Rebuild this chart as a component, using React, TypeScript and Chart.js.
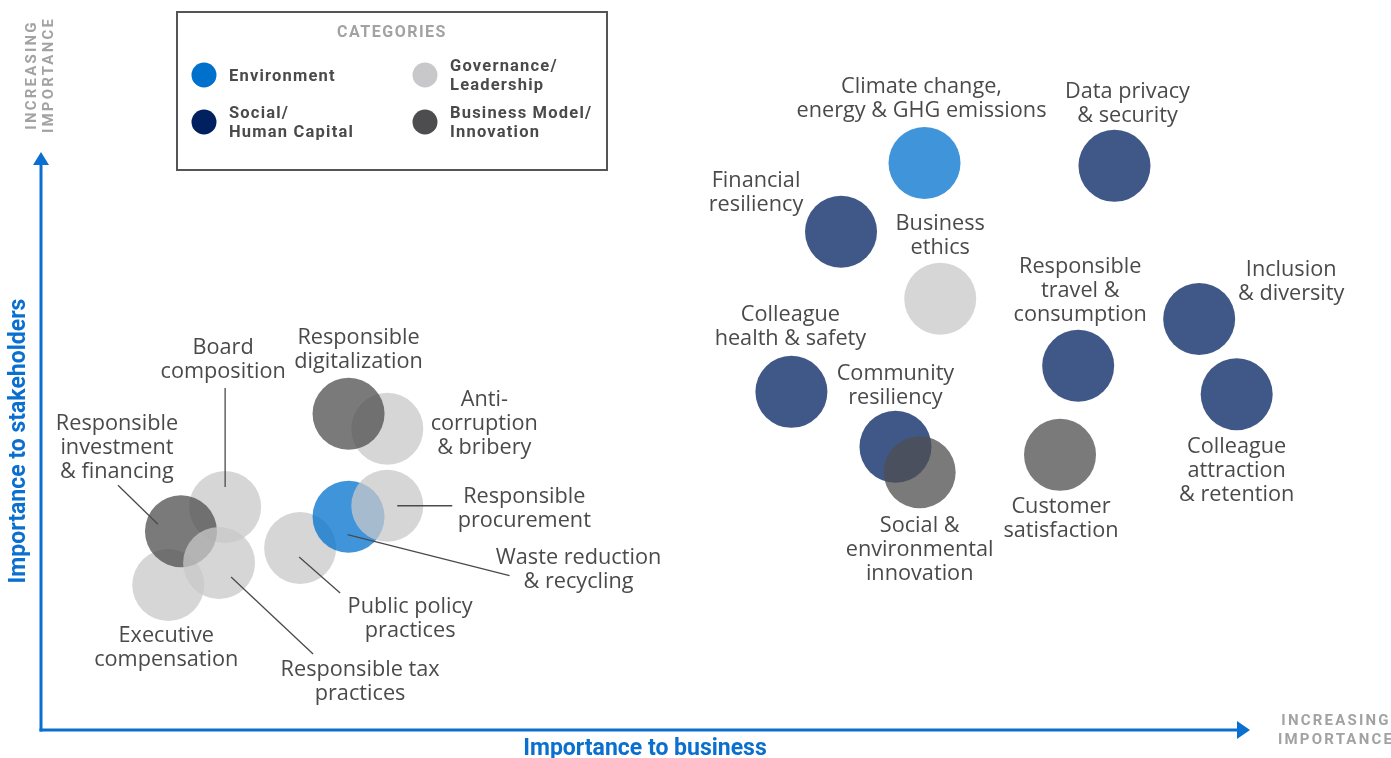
import React, { useEffect, useRef } from "react";
import { Chart, registerables } from "chart.js";

Chart.register(...registerables);

// ---- Data -----------------------------------------------------------------
const categoryNames = ["Environment", "Social/\nHuman Capital", "Governance/\nLeadership", "Business Model/\nInnovation"];
const categoryColors = ["#0070cd", "#002060", "#c8c8ca", "#4d4d4f"];

// listed in drawing order
const topics = [
  "Executive\ncompensation",
  "Board\ncomposition",
  "Responsible\ninvestment\n& financing",
  "Responsible tax\npractices",
  "Public policy\npractices",
  "Waste reduction\n& recycling",
  "Responsible\nprocurement",
  "Anti-\ncorruption\n& bribery",
  "Responsible\ndigitalization",
  "Climate change,\nenergy & GHG emissions",
  "Data privacy\n& security",
  "Financial\nresiliency",
  "Business\nethics",
  "Responsible\ntravel &\nconsumption",
  "Inclusion\n& diversity",
  "Colleague\nattraction\n& retention",
  "Colleague\nhealth & safety",
  "Community\nresiliency",
  "Social &\nenvironmental\ninnovation",
  "Customer\nsatisfaction",
];
// importance to business (0-100)
const businessImportance = [10.6, 15.3, 11.65, 14.8, 21.5, 25.5, 28.7, 28.7, 25.5, 73.1, 88.8, 66.2, 74.4, 85.8, 95.8, 98.9, 62.1, 70.7, 72.7, 84.3];
// importance to stakeholders (0-100)
const stakeholderImportance = [25.1, 38.6, 34.4, 28.9, 31.5, 36.9, 38.8, 52.1, 54.7, 98.1, 97.6, 86.2, 74.6, 63.0, 71.1, 58.1, 58.5, 49.0, 44.6, 47.6];
// 0 Environment, 1 Social, 2 Governance, 3 Business model
const topicCategory = [2, 2, 3, 2, 2, 0, 2, 2, 3, 0, 1, 1, 2, 1, 1, 1, 1, 1, 3, 3];

// ---- Layout (label placement in pixels relative to the bubble) ----------
const labelOffsets: [number, number][] = [
  [-2, 51], [-2, -159], [-64, -107], [141, 107], [110, 59], [230, 41], [137, -9], [97, -29], [10, -76],
  [-3, -76], [13, -74], [-85, -51], [0, -75], [2, -99], [92, -49], [0, 53], [-1, -77], [0, -73], [0, 54], [1, 52],
];
const leaderLines: ([number, number, number, number] | null)[] = [
  null, [0, -119, 0, -20], [-63, -46, -23, -7], [12, 14, 94, 91], [-1, 9, 40, 45], [-1, 18, 161, 59], [10, 0, 65, 0],
  null, null, null, null, null, null, null, null, null, null, null, null, null,
];

const AXIS_BLUE = "#0a6fcf";
const TEXT = "#4a4a4c";
const MUTED = "#a2a2a4";
const LABEL_FONT = "500 21.7px 'Open Sans'";

function hexToRgba(hex: string, a: number) {
  const n = parseInt(hex.slice(1), 16);
  return `rgba(${(n >> 16) & 255},${(n >> 8) & 255},${n & 255},${a})`;
}

const overlayPlugin = {
  id: "materialityOverlay",
  beforeDatasetsDraw(chart: any) {
    const ctx = chart.ctx as CanvasRenderingContext2D;
    const { left, right, top, bottom } = chart.chartArea;
    ctx.save();
    ctx.strokeStyle = AXIS_BLUE;
    ctx.fillStyle = AXIS_BLUE;
    ctx.lineWidth = 3;
    // y axis
    ctx.beginPath();
    ctx.moveTo(left + 1, bottom + 1.5);
    ctx.lineTo(left + 1, top + 10);
    ctx.stroke();
    ctx.beginPath();
    ctx.moveTo(left + 1, top);
    ctx.lineTo(left + 1 - 8, top + 13);
    ctx.lineTo(left + 1 + 8, top + 13);
    ctx.closePath();
    ctx.fill();
    // x axis
    ctx.beginPath();
    ctx.moveTo(left - 0.5, bottom);
    ctx.lineTo(right - 10, bottom);
    ctx.stroke();
    ctx.beginPath();
    ctx.moveTo(right, bottom);
    ctx.lineTo(right - 13, bottom - 9);
    ctx.lineTo(right - 13, bottom + 9);
    ctx.closePath();
    ctx.fill();
    ctx.restore();
  },
  afterDatasetsDraw(chart: any) {
    const ctx = chart.ctx as CanvasRenderingContext2D;
    const meta = chart.getDatasetMeta(0);
    const { left, right, top, bottom } = chart.chartArea;
    ctx.save();

    // leader lines
    ctx.strokeStyle = TEXT;
    ctx.lineWidth = 1.3;
    meta.data.forEach((pt: any, i: number) => {
      const l = leaderLines[i];
      if (!l) return;
      ctx.beginPath();
      ctx.moveTo(pt.x + l[0], pt.y + l[1]);
      ctx.lineTo(pt.x + l[2], pt.y + l[3]);
      ctx.stroke();
    });

    // labels
    ctx.fillStyle = TEXT;
    ctx.font = LABEL_FONT;
    ctx.textAlign = "center";
    ctx.textBaseline = "middle";
    meta.data.forEach((pt: any, i: number) => {
      const [dx, dy] = labelOffsets[i];
      topics[i].split("\n").forEach((line, j) => {
        ctx.fillText(line, pt.x + dx, pt.y + dy + j * 24);
      });
    });

    // axis titles
    ctx.fillStyle = AXIS_BLUE;
    ctx.font = "700 23px Roboto";
    ctx.fillText("Importance to business", (left + right) / 2, 749);
    ctx.save();
    ctx.translate(19, (top + bottom) / 2);
    ctx.rotate(-Math.PI / 2);
    ctx.fillText("Importance to stakeholders", 0, 0);
    ctx.restore();

    // increasing importance
    ctx.fillStyle = MUTED;
    ctx.font = "700 15px Roboto";
    (ctx as any).letterSpacing = "2.2px";
    ctx.fillText("INCREASING", 1336, 721);
    ctx.fillText("IMPORTANCE", 1336, 740);
    ctx.save();
    ctx.translate(32, 75);
    ctx.rotate(-Math.PI / 2);
    ctx.fillText("INCREASING", 0, 0);
    ctx.fillText("IMPORTANCE", 0, 17);
    ctx.restore();

    // legend box
    const bx = 176, by = 11, bw = 432, bh = 160;
    ctx.strokeStyle = "#555557";
    ctx.lineWidth = 2;
    ctx.strokeRect(bx + 1, by + 1, bw - 2, bh - 2);
    ctx.fillStyle = MUTED;
    ctx.font = "700 16px Roboto";
    (ctx as any).letterSpacing = "1.5px";
    ctx.fillText("CATEGORIES", bx + bw / 2, 33);
    (ctx as any).letterSpacing = "1.2px";
    const slots = [
      [204, 75], [204, 122], [425, 75], [425, 122],
    ];
    categoryNames.forEach((name, k) => {
      const [cx, cy] = slots[k];
      ctx.fillStyle = categoryColors[k];
      ctx.beginPath();
      ctx.arc(cx, cy, 12.5, 0, Math.PI * 2);
      ctx.fill();
      ctx.fillStyle = TEXT;
      ctx.font = "700 16.5px Roboto";
      ctx.textAlign = "left";
      const lines = name.split("\n");
      lines.forEach((ln, j) => {
        ctx.fillText(ln, cx + 25, cy + 1.5 + (j - (lines.length - 1) / 2) * 19);
      });
    });
    ctx.restore();
  },
};

export default function App() {
  const canvasRef = useRef<HTMLCanvasElement | null>(null);

  useEffect(() => {
    if (!canvasRef.current) return;
    const data = topics.map((_, i) => ({ x: businessImportance[i], y: stakeholderImportance[i] }));
    const colors = topicCategory.map((c) => hexToRgba(categoryColors[c], 0.75));
    const chart = new Chart(canvasRef.current, {
      type: "scatter",
      data: {
        datasets: [
          {
            label: "Topics",
            data,
            backgroundColor: colors,
            borderWidth: 0,
            pointRadius: 36,
            pointHoverRadius: 36,
            clip: false as any,
          },
        ],
      },
      options: {
        responsive: false,
        animation: false,
        devicePixelRatio: 1,
        layout: { autoPadding: false, padding: { left: 40, right: 141, top: 152, bottom: 28 } },
        scales: {
          x: { type: "linear", min: 0, max: 100, display: false },
          y: { type: "linear", min: 0, max: 100, display: false },
        },
        plugins: { legend: { display: false }, tooltip: { enabled: false } },
        events: [],
      },
      plugins: [overlayPlugin],
    });
    return () => chart.destroy();
  }, []);

  return (
    <div style={{ position: "absolute", left: 0, top: 0, width: 1391, height: 758, background: "#fff" }}>
      <canvas ref={canvasRef} width={1391} height={758} style={{ display: "block" }} />
    </div>
  );
}
